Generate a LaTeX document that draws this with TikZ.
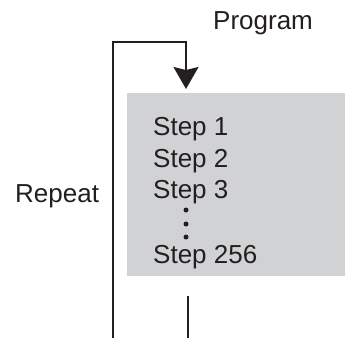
\documentclass[tikz,border=0pt]{standalone}
\usepackage{fontspec}
\setmainfont{Liberation Sans}
\usetikzlibrary{arrows.meta}
\definecolor{ink}{RGB}{35,31,32}
\definecolor{boxgray}{RGB}{209,210,212}
\begin{document}
\begin{tikzpicture}[x=1pt,y=-1pt,
  lbl/.style={font=\fontsize{26}{31}\selectfont,text=ink,inner sep=0pt,anchor=base west},
  wire/.style={draw=ink,line width=2pt},
  dotmark/.style={circle,fill=ink,inner sep=0pt,minimum size=5pt}]
\useasboundingbox (0,0) rectangle (345,338);
\node[fill=boxgray,inner sep=0pt,minimum width=218pt,minimum height=183pt,anchor=north west] (box) at (127,93) {};
\node[lbl] (prog) at (213,29) {Program};
\node[lbl] (rep) at (15,202) {Repeat};
\node[lbl] (s1) at (153,135) {Step 1};
\node[lbl] (s2) at (153,167) {Step 2};
\node[lbl] (s3) at (153,198) {Step 3};
\node[lbl] (s256) at (153,263) {Step 256};
\node[dotmark] (d1) at (186,210) {};
\node[dotmark] (d2) at (186,224) {};
\node[dotmark] (d3) at (186,237) {};
\coordinate (loopstart) at (113,338);
\coordinate (corner1) at (113,42);
\coordinate (corner2) at (186,42);
\coordinate (tip) at (186,89);
\coordinate (stubtop) at (188,296);
\coordinate (stubend) at (188,338);
\draw[wire,-{Stealth[length=22pt,width=25pt,inset=3pt]}] (loopstart) -- (corner1) -- (corner2) -- (tip);
\draw[wire] (stubtop) -- (stubend);
\end{tikzpicture}
\end{document}
